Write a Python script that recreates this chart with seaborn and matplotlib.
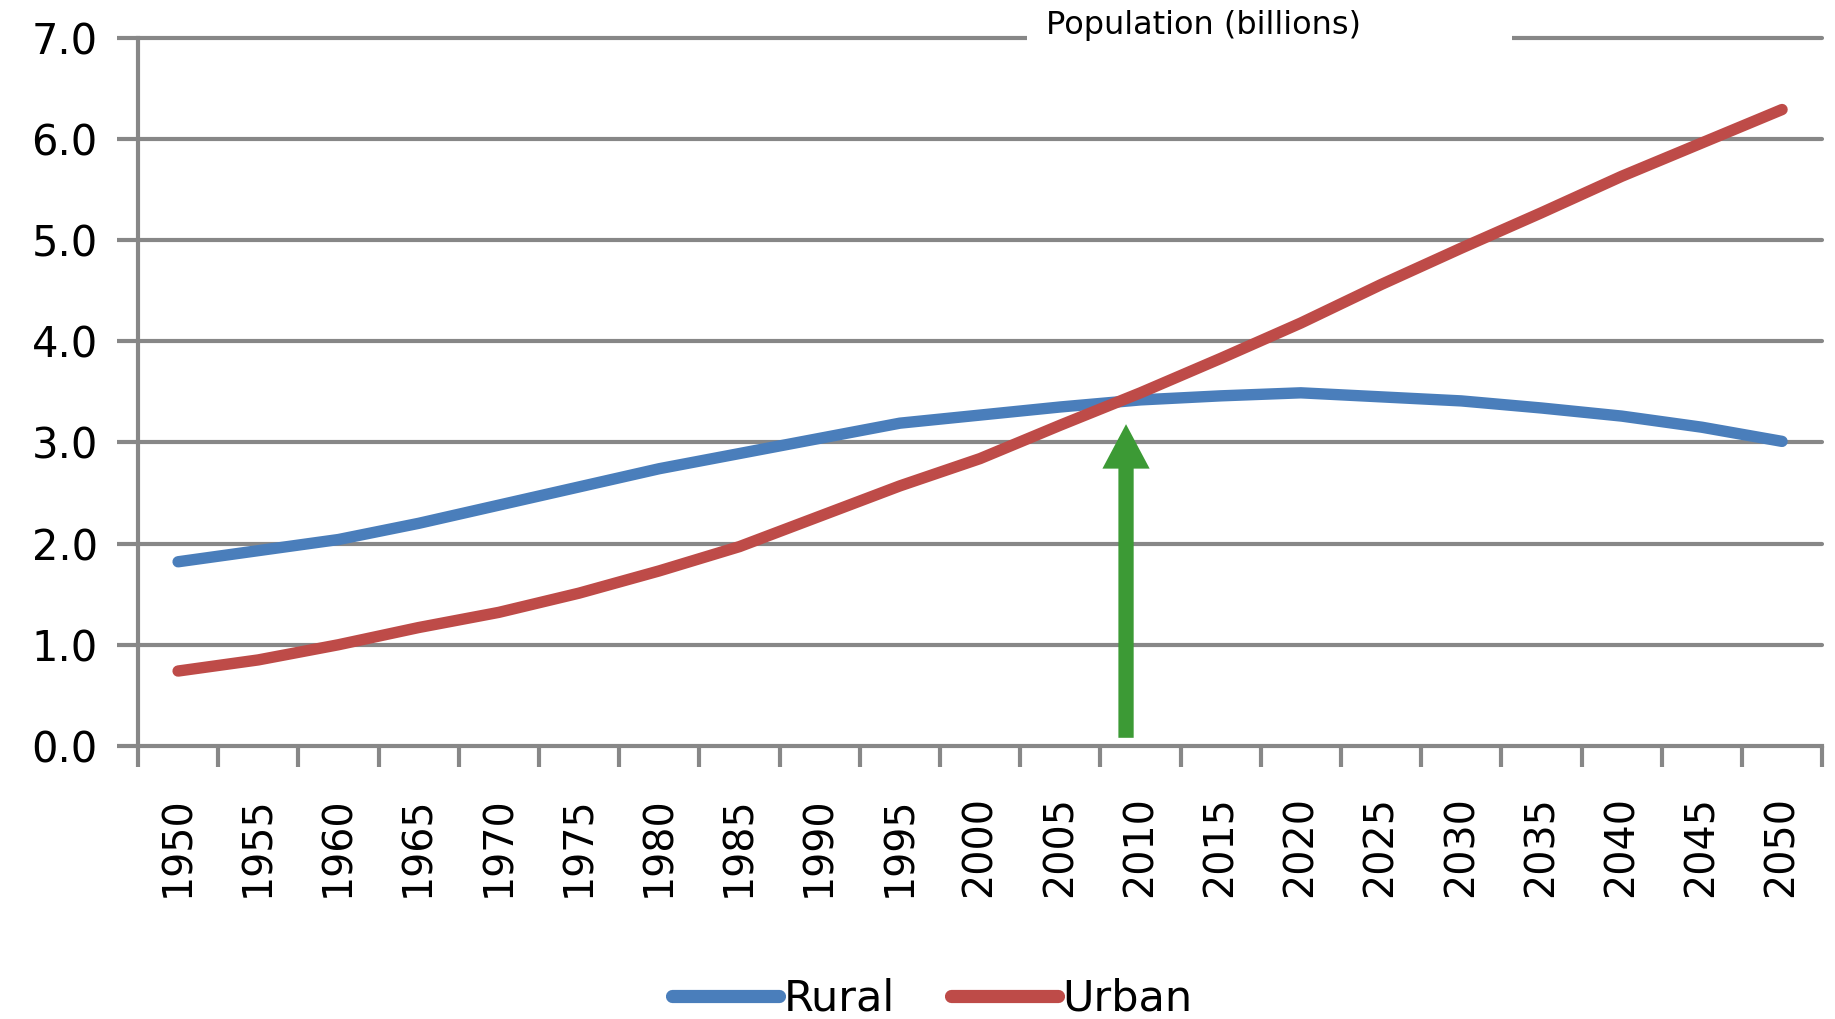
import matplotlib
matplotlib.use("Agg")
import matplotlib.pyplot as plt
import matplotlib.patches as mpatches
import seaborn as sns
import pandas as pd
import numpy as np

years = [1950, 1955, 1960, 1965, 1970, 1975, 1980, 1985, 1990, 1995, 2000,
         2005, 2010, 2015, 2020, 2025, 2030, 2035, 2040, 2045, 2050]
rural = [1.82, 1.93, 2.04, 2.20, 2.38, 2.56, 2.74, 2.89, 3.04, 3.19, 3.27,
         3.35, 3.42, 3.46, 3.49, 3.45, 3.41, 3.34, 3.26, 3.15, 3.01]
urban = [0.74, 0.85, 1.00, 1.17, 1.32, 1.51, 1.73, 1.97, 2.27, 2.57, 2.84,
         3.17, 3.49, 3.83, 4.18, 4.56, 4.92, 5.27, 5.63, 5.96, 6.29]
series_names = ["Rural", "Urban"]
y_ticks = [0.0, 1.0, 2.0, 3.0, 4.0, 5.0, 6.0, 7.0]
title_text = "Population (billions)"
arrow_x = 11.82   # category position (between 2005 and 2010)
arrow_from = 0.08
arrow_to = 3.18

sns.set_theme(style="white")
plt.rcParams['font.family'] = ['DejaVu Sans']

grid_c = "#878787"
colors = {"Rural": "#4a7ebb", "Urban": "#be4b48"}

df = pd.DataFrame({
    "pos": list(range(len(years))) * 2,
    "value": rural + urban,
    "series": ["Rural"] * len(years) + ["Urban"] * len(years),
})

fig = plt.figure(figsize=(18.35, 10.19), dpi=100)
ax = fig.add_axes([0.0752, 0.268, 0.993 - 0.0752, 0.963 - 0.268])

sns.lineplot(data=df, x="pos", y="value", hue="series", palette=colors,
             linewidth=8.2, ax=ax, legend=False, solid_capstyle="round", zorder=3)

ax.set_xlim(-0.5, len(years) - 0.5)
ax.set_ylim(0, 7.0)
ax.set_yticks(y_ticks)
ax.set_yticklabels([f"{v:.1f}" for v in y_ticks])
ax.set_xticks(range(len(years)))
ax.set_xticklabels([str(y) for y in years], rotation=90)
ax.set_xticks(np.arange(-0.5, len(years)), minor=True)
ax.tick_params(axis="x", which="major", length=0, pad=36, labelsize=28.5, labelcolor="black")
ax.tick_params(axis="x", which="minor", length=15, width=3, color=grid_c, direction="out", bottom=True)
ax.tick_params(axis="y", length=15, width=3, color=grid_c, direction="out", pad=14,
               labelsize=30, left=True, labelcolor="black")
ax.set_xlabel("")
ax.set_ylabel("")

for v in y_ticks:
    if v > 0:
        ax.axhline(v, color=grid_c, linewidth=3, zorder=1, clip_on=False)
for side in ["top", "right"]:
    ax.spines[side].set_visible(False)
for side in ["left", "bottom"]:
    ax.spines[side].set_color(grid_c)
    ax.spines[side].set_linewidth(3)

# title with white box interrupting the top gridline
ax.add_patch(mpatches.Rectangle((0.528, 0.985), 0.816 - 0.528, 0.04,
                                transform=ax.transAxes, facecolor="white",
                                edgecolor="none", zorder=4, clip_on=False))
ax.text(0.539, 1.017, title_text, transform=ax.transAxes, ha="left", va="center",
        fontsize=23, color="black", zorder=5)

# green arrow
ax.annotate("", xy=(arrow_x, arrow_to), xytext=(arrow_x, arrow_from),
            arrowprops=dict(facecolor="#3c9a35", edgecolor="none", width=11,
                            headwidth=34, headlength=32, shrink=0), zorder=6)

handles = [plt.Line2D([], [], color=colors[n], linewidth=9.5, solid_capstyle="round")
           for n in series_names]
fig.legend(handles, series_names, loc="center", bbox_to_anchor=(0.508, 0.02),
           ncol=2, frameon=False, fontsize=31, handlelength=2.5, handletextpad=0.1,
           columnspacing=1.3, labelcolor="black")

fig.savefig("out.png", dpi=100)
